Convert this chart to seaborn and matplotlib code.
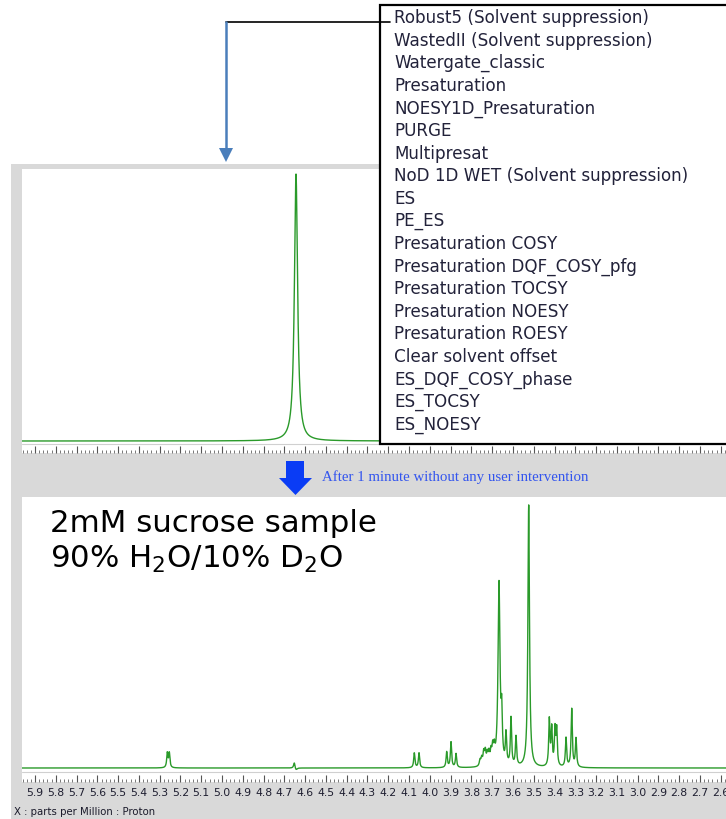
import numpy as np
import pandas as pd
import seaborn as sns
import matplotlib
matplotlib.use("Agg")
import matplotlib.pyplot as plt
from matplotlib.patches import Rectangle, Polygon
from matplotlib.lines import Line2D
from matplotlib.transforms import Affine2D
from matplotlib.ticker import MultipleLocator, FormatStrFormatter

sns.set_style("white")
plt.rcParams["font.family"] = ["DejaVu Sans"]
plt.rcParams["mathtext.default"] = "regular"

# ---------------- data ----------------
menu_items = [
    "Robust5 (Solvent suppression)", "WastedII (Solvent suppression)",
    "Watergate_classic", "Presaturation", "NOESY1D_Presaturation", "PURGE",
    "Multipresat", "NoD 1D WET (Solvent suppression)", "ES", "PE_ES",
    "Presaturation COSY", "Presaturation DQF_COSY_pfg", "Presaturation TOCSY",
    "Presaturation NOESY", "Presaturation ROESY", "Clear solvent offset",
    "ES_DQF_COSY_phase", "ES_TOCSY", "ES_NOESY",
]

# top spectrum (before): water signal only
top_peak_ppm = [4.644]
top_peak_height = [100.0]
top_peak_hwhm = [0.0092]

# bottom spectrum (after solvent suppression): sucrose signals
bot_peak_ppm = [5.2633, 5.2537, 4.6522, 4.6440, 4.0747, 4.0521, 3.9188, 3.8981, 3.8740,
                3.7585, 3.7504, 3.7407, 3.7330, 3.7234, 3.7152, 3.7056, 3.6974,
                3.6897, 3.6671, 3.6541, 3.6334, 3.6094, 3.5853, 3.5242, 3.4250,
                3.4136, 3.3977, 3.3895, 3.3447, 3.3173, 3.2966]
bot_peak_height = [5.5, 5.5, 2.2, -0.9, 5.6, 5.6, 5.9, 9.6, 5.2,
                   2.2, 2.8, 4.8, 5.0, 4.0, 4.2, 4.5, 5.8,
                   5.0, 69.0, 16.5, 11.5, 18.0, 11.0, 99.0, 17.5,
                   14.0, 13.5, 13.5, 11.0, 22.0, 10.8]
bot_peak_hwhm = [0.0035, 0.0035, 0.004, 0.006, 0.0035, 0.0035, 0.0035, 0.0035, 0.0035,
                 0.004, 0.004, 0.004, 0.004, 0.004, 0.004, 0.004, 0.004,
                 0.004, 0.0055, 0.0035, 0.0035, 0.0035, 0.0035, 0.0045, 0.0035,
                 0.0035, 0.0035, 0.0035, 0.0035, 0.0035, 0.0035]

ppm_left, ppm_right = 5.9626, 2.5747
x_label = "X : parts per Million : Proton"
note_line1 = "2mM sucrose sample"
note_line2 = "90% H$_2$O/10% D$_2$O"
arrow_text = "After 1 minute without any user intervention"

# ---------------- build spectra ----------------
ppm = np.linspace(ppm_left, ppm_right, 9000)


def spectrum(pos, hgt, wid):
    y = np.zeros_like(ppm)
    for p, h, w in zip(pos, hgt, wid):
        y += h / (1.0 + ((ppm - p) / w) ** 2)
    return y


df_top = pd.DataFrame({"ppm": ppm, "I": spectrum(top_peak_ppm, top_peak_height, top_peak_hwhm)})
df_bot = pd.DataFrame({"ppm": ppm, "I": spectrum(bot_peak_ppm, bot_peak_height, bot_peak_hwhm)})

# ---------------- figure ----------------
W, H = 726, 819
fig = plt.figure(figsize=(W / 100, H / 100), dpi=100)
fig.patch.set_facecolor("white")
px = Affine2D().scale(1.0 / W, -1.0 / H).translate(0, 1) + fig.transFigure

GRAY = "#d9d9d9"
GREEN = "#2a9a2a"

fig.add_artist(Rectangle((11, 164), 800, 700, transform=px, facecolor=GRAY,
                         edgecolor="none", zorder=-5))


def add_ax(x0, y0, x1, y1):
    return fig.add_axes([x0 / W, 1 - y1 / H, (x1 - x0) / W, (y1 - y0) / H])


def style_ax(ax, base_px, top_px, y0, y1, labels):
    ax.set_facecolor("white")
    for s in ax.spines.values():
        s.set_visible(False)
    ax.set_xlim(ppm_left, ppm_right)
    hpx = y1 - y0
    scale = (base_px - top_px) / 100.0
    ymin = -(y1 - base_px) / scale
    ax.set_ylim(ymin, ymin + hpx / scale)
    ax.set_yticks([])
    ax.set_xlabel("")
    ax.set_ylabel("")
    ax.xaxis.set_major_locator(MultipleLocator(0.1))
    ax.xaxis.set_minor_locator(MultipleLocator(0.02))
    ax.xaxis.set_major_formatter(FormatStrFormatter("%.1f"))
    ax.tick_params(axis="x", which="major", direction="in", length=5, width=0.8,
                   color="#555555", bottom=True, labelbottom=labels, pad=4,
                   labelsize=7.8, labelcolor="#1e1e30")
    ax.tick_params(axis="x", which="minor", direction="in", length=2.2, width=0.7,
                   color="#777777", bottom=True)


# top spectrum
ax_top = add_ax(22, 169, W, 453)
sns.lineplot(data=df_top, x="ppm", y="I", ax=ax_top, color=GREEN, linewidth=1.0,
             sort=False, estimator=None)
style_ax(ax_top, 441, 174, 169, 453, False)
ax_top.axhline(-1.0, color="#d0d0d0", linewidth=0.8, zorder=0)

# bottom spectrum
ax_bot = add_ax(22, 497, W, 782)
sns.lineplot(data=df_bot, x="ppm", y="I", ax=ax_bot, color=GREEN, linewidth=1.0,
             sort=False, estimator=None)
style_ax(ax_bot, 768, 503, 497, 782, True)
ax_bot.axhline(-1.6, color="#d0d0d0", linewidth=0.8, zorder=0)

# menu box
fig.add_artist(Rectangle((380, 5), 400, 439, transform=px, facecolor="white",
                         edgecolor="black", linewidth=1.6, zorder=5))
for i, item in enumerate(menu_items):
    fig.text(394 / W, 1 - (18 + i * 22.6) / H, item, fontsize=12.1, color="#22223a",
             va="center", ha="left", zorder=6)

# connector and blue arrow
fig.add_artist(Line2D([226, 390], [22, 22], transform=px, color="black",
                      linewidth=1.2, zorder=6))
fig.add_artist(Line2D([226, 226], [22, 150], transform=px, color="#4a7ebb",
                      linewidth=1.8, zorder=6))
fig.add_artist(Polygon([[219, 148], [233, 148], [226, 162]], closed=True,
                       transform=px, facecolor="#4a7ebb", edgecolor="none", zorder=6))

# big blue block arrow in the band
fig.add_artist(Polygon([[286, 461], [304, 461], [304, 478], [312, 478], [295.5, 495],
                        [279, 478], [286, 478]], closed=True, transform=px,
                       facecolor="#0a3cf5", edgecolor="none", zorder=6))
fig.text(322 / W, 1 - 477 / H, arrow_text, fontsize=10.7, color="#3355ee",
         family=["Liberation Serif", "DejaVu Serif"], va="center", ha="left")

# sample note
fig.text(50 / W, 1 - 532 / H, note_line1, fontsize=22.2, color="black",
         va="baseline", ha="left")
fig.text(50 / W, 1 - 568 / H, note_line2, fontsize=22.2, color="black",
         va="baseline", ha="left")

# x label
fig.text(14 / W, 1 - 812 / H, x_label, fontsize=7.3, color="#1a1a2a",
         va="center", ha="left")

fig.savefig("out.png", dpi=100, facecolor="white")
